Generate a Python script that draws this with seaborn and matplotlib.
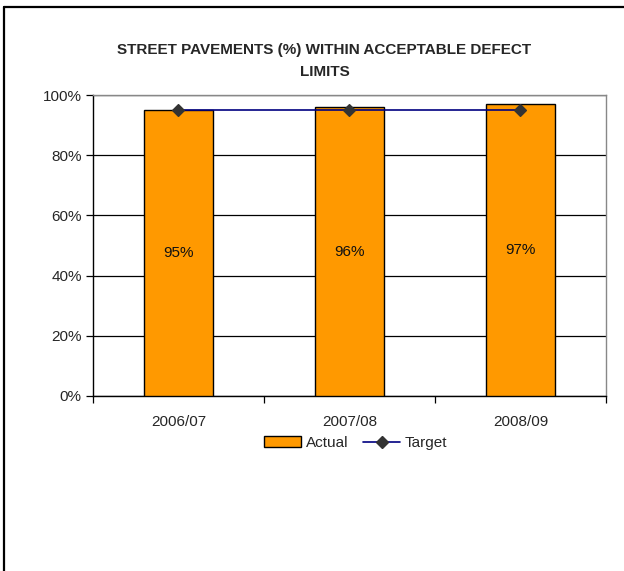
import matplotlib
matplotlib.use("Agg")
import matplotlib.pyplot as plt
from matplotlib.patches import Patch
from matplotlib.lines import Line2D
from matplotlib.ticker import FuncFormatter, FixedLocator
import seaborn as sns
import pandas as pd

# Data
years = ["2006/07", "2007/08", "2008/09"]
actual = [95, 96, 97]
target = [95, 95, 95]

df = pd.DataFrame({"year": years, "actual": actual, "target": target})

sns.set_style("white")
plt.rcParams["font.family"] = ["Liberation Sans Narrow", "Liberation Sans", "DejaVu Sans"]

fig = plt.figure(figsize=(6.24, 5.71), dpi=100)
ax = fig.add_axes([0.149, 0.3065, 0.822, 0.527])

bar_color = "#FF9900"
sns.barplot(data=df, x="year", y="actual", color=bar_color, edgecolor="black",
            linewidth=1.0, width=0.40, saturation=1, ax=ax, zorder=3)

sns.pointplot(data=df, x="year", y="target", color="#000080", markers="D",
              linestyles="-", ax=ax, linewidth=1.2, markersize=6, zorder=4)
for ln in ax.lines:
    ln.set_markerfacecolor("#333333")
    ln.set_markeredgecolor("#333333")

# Value labels centred in each bar
for i, v in enumerate(actual):
    ax.text(i, v / 2, f"{v}%", ha="center", va="center", fontsize=11, color="#111111", zorder=5)

ax.set_ylim(0, 100)
ax.set_xlim(-0.5, 2.5)
ax.yaxis.set_major_locator(FixedLocator([0, 20, 40, 60, 80, 100]))
ax.yaxis.set_major_formatter(FuncFormatter(lambda v, p: f"{v:.0f}%"))
ax.grid(axis="y", color="black", linewidth=0.9, zorder=0)
ax.set_axisbelow(True)

ax.set_xlabel("")
ax.set_ylabel("")
ax.tick_params(axis="y", which="major", left=True, length=5, width=0.9, color="black",
               labelsize=11, pad=3)
ax.tick_params(axis="x", which="major", bottom=False, labelsize=11, pad=10)
ax.xaxis.set_minor_locator(FixedLocator([-0.5, 0.5, 1.5, 2.5]))
ax.tick_params(axis="x", which="minor", bottom=True, length=5, width=0.9, color="black")

for s in ["left", "bottom"]:
    ax.spines[s].set_color("black")
    ax.spines[s].set_linewidth(1.0)
for s in ["right", "top"]:
    ax.spines[s].set_color("#888888")
    ax.spines[s].set_linewidth(1.0)

fig.text(0.52, 0.893, "STREET PAVEMENTS (%) WITHIN ACCEPTABLE DEFECT\nLIMITS",
         ha="center", va="center", fontsize=11, fontweight="bold", linespacing=1.8)

handles = [Patch(facecolor=bar_color, edgecolor="black", linewidth=1.0, label="Actual"),
           Line2D([0], [0], color="#000080", lw=1.2, marker="D", markersize=6,
                  markerfacecolor="#333333", markeredgecolor="#333333", label="Target")]
fig.legend(handles=handles, loc="center", bbox_to_anchor=(0.57, 0.224), ncol=2,
           frameon=False, fontsize=11, handlelength=2.4, handletextpad=0.3,
           columnspacing=1.0)

# Outer frame: top and left edges
fig.add_artist(Line2D([0.006, 1.0], [0.988, 0.988], color="black", lw=1.6,
                      transform=fig.transFigure))
fig.add_artist(Line2D([0.006, 0.006], [0.0, 0.988], color="black", lw=1.6,
                      transform=fig.transFigure))

fig.savefig("out.png", dpi=100)
